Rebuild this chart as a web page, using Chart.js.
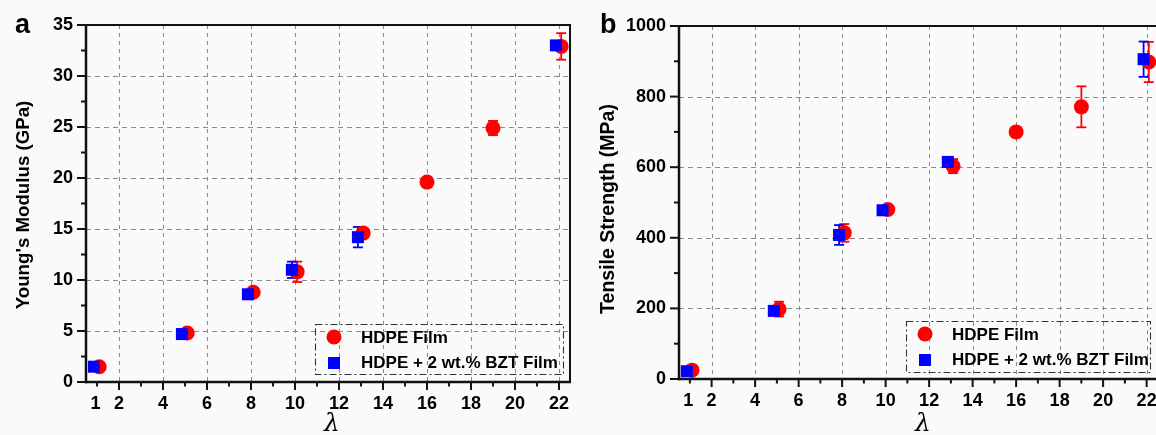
<!DOCTYPE html>
<html>
<head>
<meta charset="utf-8">
<script src="https://cdn.jsdelivr.net/npm/chart.js@4.4.1/dist/chart.umd.min.js"></script>
<style>
  html, body { margin: 0; padding: 0; overflow: hidden; background: #fafafa; width: 1156px; height: 435px; }
  .panel { position: absolute; top: 0; height: 435px; }
  #pa { left: 0; width: 580px; }
  #pb { left: 580px; width: 592px; }
</style>
</head>
<body>
<div class="panel" id="pa"><canvas id="ca" width="580" height="435"></canvas></div>
<div class="panel" id="pb"><canvas id="cb" width="592" height="435"></canvas></div>
<script>
// Draw ratio λ of the films
const lambdaHDPE = [1, 5, 8, 10, 13, 16, 19, 22];
const lambdaBZT  = [1, 5, 8, 10, 13, 22];

// Young's modulus (GPa) with standard deviations
const modulusHDPE    = [1.5, 4.8, 8.8, 10.8, 14.6, 19.6, 24.9, 32.9];
const modulusHDPEErr = [0.2, 0.3, 0.4, 1.0, 0.4, 0.3, 0.7, 1.3];
const modulusBZT     = [1.5, 4.7, 8.6, 11.0, 14.2, 33.0];
const modulusBZTErr  = [0.2, 0.2, 0.4, 0.8, 1.0, 0.4];

// Tensile strength (MPa) with standard deviations
const tensileHDPE    = [25, 198, 414, 480, 603, 700, 771, 898];
const tensileHDPEErr = [8, 21, 25, 12, 20, 10, 58, 57];
const tensileBZT     = [22, 193, 408, 478, 615, 906];
const tensileBZTErr  = [8, 12, 28, 12, 12, 50];

// Axis ticks
const xTickLabels  = [1, 2, 4, 6, 8, 10, 12, 14, 16, 18, 20, 22];
const xMajorTicks  = [2, 4, 6, 8, 10, 12, 14, 16, 18, 20, 22];
const xMinorTicks  = [1, 3, 5, 7, 9, 11, 13, 15, 17, 19, 21];
const modulusTicks = [0, 5, 10, 15, 20, 25, 30, 35];
const modulusMinor = [2.5, 7.5, 12.5, 17.5, 22.5, 27.5, 32.5];
const modulusGrid  = [5, 10, 15, 20, 25, 30];
const tensileTicks = [0, 200, 400, 600, 800, 1000];
const tensileMinor = [100, 300, 500, 700, 900];
const tensileGrid  = [200, 400, 600, 800];

const seriesNames = ['HDPE Film', 'HDPE + 2 wt.% BZT Film'];
const RED = '#ff0000', BLUE = '#0000ff';
const SANS = "'Liberation Sans', Arial, sans-serif";

// Paired measurements are nudged apart so both markers stay visible
const DODGE_HDPE = 0.1, DODGE_BZT = -0.14;
const dodge = (xs, others, d) => xs.map(v => others.includes(v) ? v + d : v);

function line(ctx, x1, y1, x2, y2) { ctx.beginPath(); ctx.moveTo(x1, y1); ctx.lineTo(x2, y2); ctx.stroke(); }

const gridPlugin = {
  id: 'dashGrid',
  beforeDatasetsDraw(chart, args, o) {
    const { ctx, chartArea: a, scales: { x, y } } = chart;
    ctx.save();
    ctx.strokeStyle = '#8a8a8a';
    ctx.lineWidth = 1;
    ctx.setLineDash([4, 4]);
    o.xGrid.forEach(v => { const px = Math.round(x.getPixelForValue(v)) + 0.5; line(ctx, px, a.top, px, a.bottom); });
    ctx.setLineDash([5, 4]);
    o.yGrid.forEach(v => { const py = Math.round(y.getPixelForValue(v)) + 0.5; line(ctx, a.left, py, a.right, py); });
    ctx.restore();
  }
};

const errorPlugin = {
  id: 'errorBars',
  beforeDatasetsDraw(chart, args, o) {
    const { ctx, scales: { x, y } } = chart;
    ctx.save();
    ctx.lineWidth = 1.8;
    for (let di = chart.data.datasets.length - 1; di >= 0; di--) {
      const ds = chart.data.datasets[di];
      const errs = o.errors[di];
      ctx.strokeStyle = ds.backgroundColor;
      ds.data.forEach((p, i) => {
        const e = errs[i];
        if (!e) return;
        const px = x.getPixelForValue(p.x);
        const t = y.getPixelForValue(p.y + e), b = y.getPixelForValue(p.y - e);
        line(ctx, px, t, px, b);
        line(ctx, px - 5, t, px + 5, t);
        line(ctx, px - 5, b, px + 5, b);
      });
    }
    ctx.restore();
  }
};

const framePlugin = {
  id: 'frame',
  afterDraw(chart, args, o) {
    const { ctx, chartArea: a, scales: { x, y } } = chart;
    ctx.save();
    ctx.strokeStyle = '#111';
    ctx.lineWidth = 2;
    line(ctx, a.left, a.top, a.right + 1, a.top);
    line(ctx, a.right, a.top, a.right, a.bottom);
    ctx.lineWidth = 2.5;
    line(ctx, a.left, a.top - 1, a.left, a.bottom + 1.2);
    line(ctx, a.left - 1.2, a.bottom, a.right + 1, a.bottom);
    ctx.lineWidth = 2;
    o.yMajor.forEach(v => { const py = y.getPixelForValue(v); line(ctx, a.left - 9, py, a.left, py); });
    o.yMinor.forEach(v => { const py = y.getPixelForValue(v); line(ctx, a.left - 5, py, a.left, py); });
    xMajorTicks.forEach(v => { const px = x.getPixelForValue(v); line(ctx, px, a.bottom, px, a.bottom + 8); });
    xMinorTicks.forEach(v => { const px = x.getPixelForValue(v); line(ctx, px, a.bottom, px, a.bottom + 4.5); });

    // tick labels, placed by the scales
    ctx.fillStyle = '#000';
    ctx.font = `bold 18px ${SANS}`;
    ctx.textAlign = 'right';
    ctx.textBaseline = 'middle';
    o.yMajor.forEach(v => ctx.fillText(String(v), a.left - 13, y.getPixelForValue(v)));
    ctx.textAlign = 'center';
    ctx.textBaseline = 'alphabetic';
    xTickLabels.forEach(v => ctx.fillText(String(v), x.getPixelForValue(v) - (v === 1 ? 1.5 : 0), a.bottom + 27));

    // panel letter, axis titles
    ctx.textAlign = 'left';
    ctx.font = `bold 27px ${SANS}`;
    ctx.fillText(o.letter, o.letterX, 33);

    ctx.save();
    ctx.translate(o.titleX, o.titleY);
    ctx.rotate(-Math.PI / 2);
    ctx.textAlign = 'center';
    ctx.textBaseline = 'middle';
    ctx.font = `bold ${o.titleSize}px ${SANS}`;
    ctx.fillText(o.title, 0, 0);
    ctx.restore();

    ctx.textAlign = 'center';
    ctx.textBaseline = 'middle';
    ctx.font = `italic 25px 'DejaVu Serif', 'Liberation Serif', serif`;
    ctx.fillText('λ', o.lambdaX, 424);

    // legend
    const L = o.legend;
    const bx = a.right - L.right - L.w, by = a.bottom - L.bottom - L.h;
    ctx.strokeStyle = '#333';
    ctx.lineWidth = 1.1;
    ctx.setLineDash([7, 3, 2, 3]);
    ctx.strokeRect(bx + 0.5, by + 0.5, L.w, L.h);
    ctx.setLineDash([]);
    ctx.fillStyle = RED;
    ctx.beginPath(); ctx.arc(bx + 19, by + 13, 7.5, 0, Math.PI * 2); ctx.fill();
    ctx.fillStyle = BLUE;
    ctx.fillRect(bx + 13, by + 33, 12, 12);
    ctx.fillStyle = '#000';
    ctx.textAlign = 'left';
    ctx.font = `bold 17px ${SANS}`;
    ctx.fillText(seriesNames[0], bx + 46, by + 14);
    ctx.fillText(seriesNames[1], bx + 46, by + 39);
    ctx.restore();
  }
};

function makePanel(p) {
  const xH = dodge(lambdaHDPE, lambdaBZT, DODGE_HDPE);
  const xB = dodge(lambdaBZT, lambdaHDPE, DODGE_BZT);
  return new Chart(document.getElementById(p.canvas), {
    type: 'scatter',
    data: {
      datasets: [
        {
          label: seriesNames[1],
          data: lambdaBZT.map((v, i) => ({ x: xB[i], y: p.bzt[i] })),
          pointStyle: 'rect', pointRadius: 8.5, pointHoverRadius: 8.5,
          backgroundColor: BLUE, borderColor: BLUE, borderWidth: 0, clip: false
        },
        {
          label: seriesNames[0],
          data: lambdaHDPE.map((v, i) => ({ x: xH[i], y: p.hdpe[i] })),
          pointStyle: 'circle', pointRadius: 7.5, pointHoverRadius: 7.5,
          backgroundColor: RED, borderColor: RED, borderWidth: 0, clip: false
        }
      ]
    },
    options: {
      responsive: false,
      animation: false,
      events: [],
      layout: { padding: { top: p.padTop, right: p.padRight, left: 0, bottom: 0 } },
      scales: {
        x: {
          type: 'linear', min: 0.5, max: 22.5,
          grid: { display: false }, border: { display: false },
          afterBuildTicks: s => { s.ticks = xTickLabels.map(v => ({ value: v })); },
          afterFit: s => { s.height = p.xAxisHeight; },
          ticks: { display: false }
        },
        y: {
          type: 'linear', min: p.yTicks[0], max: p.yTicks[p.yTicks.length - 1],
          grid: { display: false }, border: { display: false },
          afterBuildTicks: s => { s.ticks = p.yTicks.map(v => ({ value: v })); },
          afterFit: s => { s.width = p.yAxisWidth; },
          ticks: { display: false }
        }
      },
      plugins: {
        legend: { display: false },
        tooltip: { enabled: false },
        dashGrid: { xGrid: xMajorTicks, yGrid: p.yGrid },
        errorBars: { errors: [p.bztErr, p.hdpeErr] },
        frame: {
          yMajor: p.yTicks, yMinor: p.yMinor,
          letter: p.letter, letterX: p.letterX,
          title: p.title, titleX: p.titleX, titleY: p.titleY, titleSize: p.titleSize,
          lambdaX: p.lambdaX, legend: p.legend
        }
      }
    },
    plugins: [gridPlugin, errorPlugin, framePlugin]
  });
}

makePanel({
  canvas: 'ca', letter: 'a', letterX: 15,
  hdpe: modulusHDPE, hdpeErr: modulusHDPEErr, bzt: modulusBZT, bztErr: modulusBZTErr,
  yTicks: modulusTicks, yMinor: modulusMinor, yGrid: modulusGrid,
  yAxisWidth: 86, xAxisHeight: 53, padTop: 25, padRight: 10,
  title: "Young's Modulus (GPa)", titleX: 24, titleY: 205, titleSize: 18.7,
  lambdaX: 332,
  legend: { right: 7, bottom: 8, w: 248, h: 50 }
});

makePanel({
  canvas: 'cb', letter: 'b', letterX: 20,
  hdpe: tensileHDPE, hdpeErr: tensileHDPEErr, bzt: tensileBZT, bztErr: tensileBZTErr,
  yTicks: tensileTicks, yMinor: tensileMinor, yGrid: tensileGrid,
  yAxisWidth: 99, xAxisHeight: 56, padTop: 26, padRight: 14.5,
  title: 'Tensile Strength (MPa)', titleX: 29, titleY: 209, titleSize: 19.5,
  lambdaX: 343,
  legend: { right: 7.5, bottom: 7, w: 244, h: 51 }
});
</script>
</body>
</html>
